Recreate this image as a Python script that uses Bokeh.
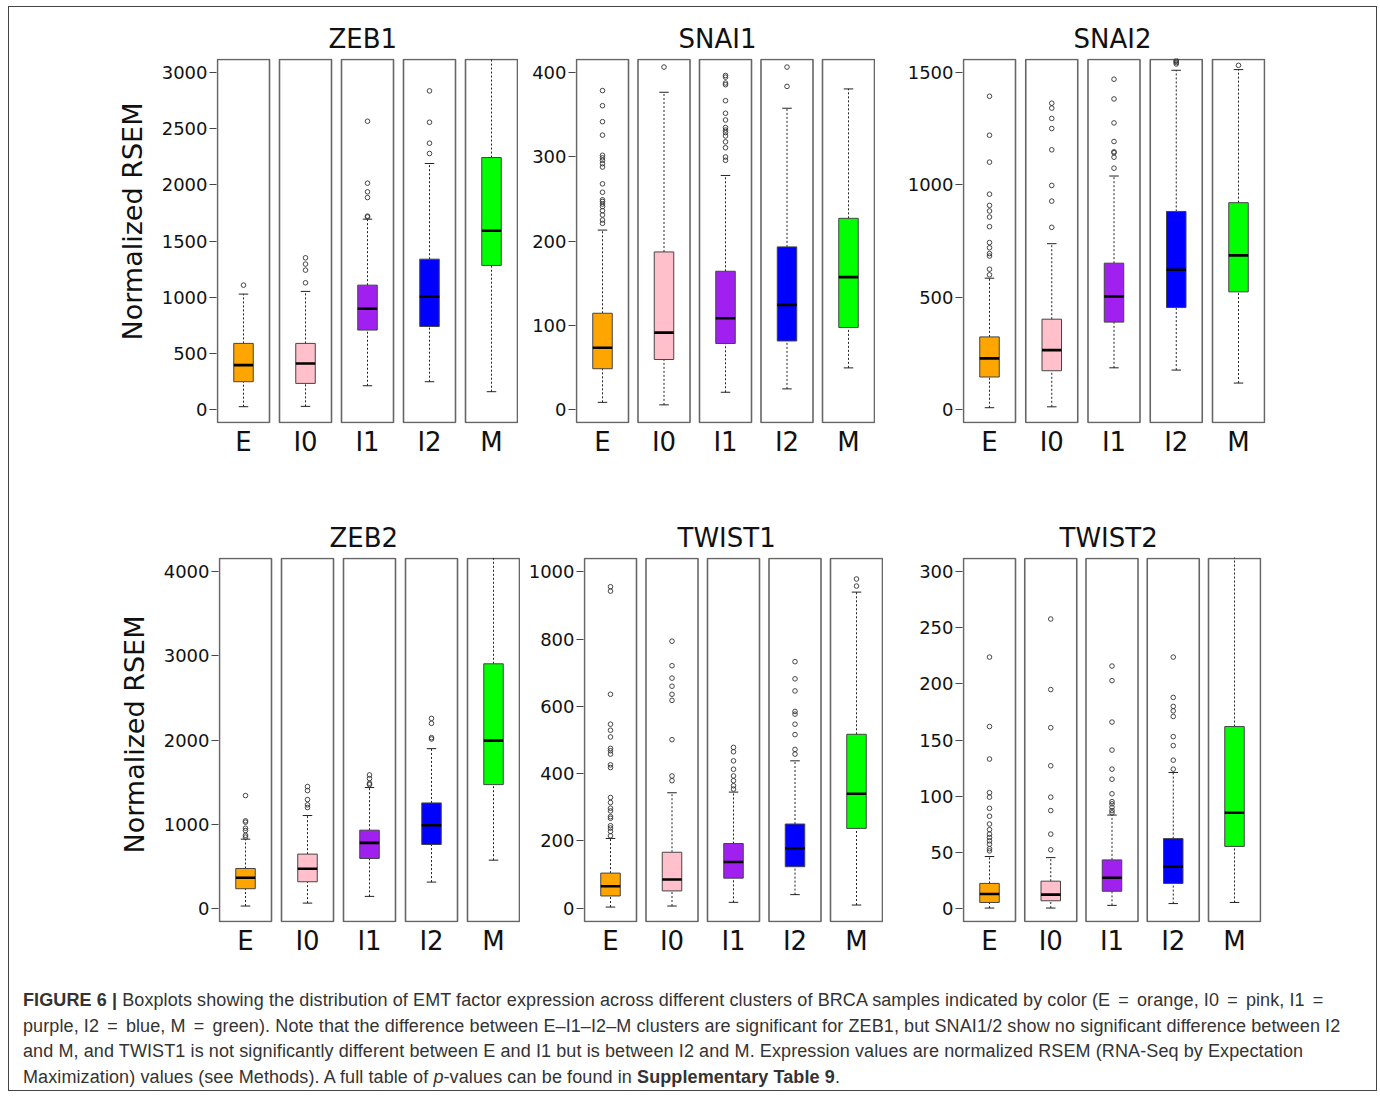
from bokeh.plotting import figure
from bokeh.models import Range1d, FixedTicker, Title, Div, Spacer
from bokeh.layouts import row, column
from bokeh.embed import file_html
from bokeh.resources import INLINE

CLUSTERS = ["E", "I0", "I1", "I2", "M"]
COLORS = ["#FFA500", "#FFC0CB", "#A020F0", "#0000FF", "#00FF00"]

# ---------------- ZEB1 ----------------
zeb1_ticks = [0, 500, 1000, 1500, 2000, 2500, 3000]
zeb1_lo = [21, 24, 208, 244, 155]
zeb1_q1 = [244, 229, 705, 737, 1282]
zeb1_med = [392, 407, 895, 1002, 1591]
zeb1_q3 = [586, 586, 1106, 1338, 2245]
zeb1_hi = [1026, 1050, 1695, 2192, 3400]
zeb1_out = [[1106], [1127, 1240, 1294, 1350],
            [1715, 1722, 1888, 1939, 2016, 2569],
            [2281, 2373, 2560, 2840], []]

# ---------------- SNAI1 ----------------
snai1_ticks = [0, 100, 200, 300, 400]
snai1_lo = [8, 5, 20, 24, 49]
snai1_q1 = [48, 59, 78, 81, 97]
snai1_med = [73, 91, 108, 124, 157]
snai1_q3 = [114, 187, 164, 193, 227]
snai1_hi = [213, 377, 278, 358, 381]
snai1_out = [[221, 225, 231, 236, 241, 244, 247, 249, 258, 268, 288, 292, 296,
              299, 302, 326, 342, 361, 379],
             [407],
             [296, 300, 311, 318, 325, 329, 332, 335, 344, 352, 367, 386, 388,
              395, 397],
             [384, 407], []]

# ---------------- SNAI2 ----------------
snai2_ticks = [0, 500, 1000, 1500]
snai2_lo = [6, 10, 184, 174, 116]
snai2_q1 = [143, 171, 388, 453, 523]
snai2_med = [226, 263, 502, 622, 686]
snai2_q3 = [322, 401, 651, 882, 921]
snai2_hi = [584, 738, 1040, 1512, 1515]
snai2_out = [[599, 624, 683, 694, 720, 743, 814, 857, 884, 909, 959, 1102,
              1222, 1396],
             [811, 928, 998, 1157, 1252, 1297, 1343, 1365],
             [1075, 1124, 1144, 1148, 1194, 1277, 1384, 1472],
             [1540, 1546, 1552, 1556],
             [1534]]

# ---------------- ZEB2 ----------------
zeb2_ticks = [0, 1000, 2000, 3000, 4000]
zeb2_lo = [24, 59, 139, 309, 570]
zeb2_q1 = [230, 313, 590, 756, 1469]
zeb2_med = [360, 467, 776, 986, 1992]
zeb2_q3 = [471, 642, 927, 1251, 2907]
zeb2_hi = [820, 1101, 1434, 1897, 4500]
zeb2_out = [[844, 866, 923, 950, 1022, 1038, 1339],
            [1196, 1228, 1291, 1398, 1446],
            [1469, 1485, 1541, 1584],
            [2012, 2028, 2198, 2257], []]

# ---------------- TWIST1 ----------------
twist1_ticks = [0, 200, 400, 600, 800, 1000]
twist1_lo = [3, 6, 17, 40, 9]
twist1_q1 = [36, 51, 89, 123, 237]
twist1_med = [65, 85, 137, 178, 340]
twist1_q3 = [104, 166, 192, 250, 517]
twist1_hi = [207, 343, 345, 438, 940]
twist1_out = [[215, 228, 238, 245, 267, 272, 289, 297, 314, 329, 418, 426,
               458, 468, 475, 509, 529, 547, 636, 943, 956],
              [379, 393, 501, 618, 636, 660, 684, 721, 794],
              [354, 364, 379, 393, 413, 438, 465, 478],
              [458, 472, 516, 547, 577, 585, 646, 682, 733],
              [958, 979]]

# ---------------- TWIST2 ----------------
twist2_ticks = [0, 50, 100, 150, 200, 250, 300]
twist2_lo = [0, 0, 2.4, 4, 5]
twist2_q1 = [5, 6.5, 15, 22, 55]
twist2_med = [12.5, 12, 27, 37, 85]
twist2_q3 = [22, 24, 43, 62, 162]
twist2_hi = [46, 45, 83, 121, 340]
twist2_out = [[51, 53, 57, 60, 63, 66, 70, 75, 82, 89, 99, 103, 133, 162, 224],
              [52, 66, 87, 99, 127, 161, 195, 258],
              [85, 87, 90, 93, 95, 102, 115, 124, 141, 166, 203, 216],
              [124, 132, 145, 153, 171, 176, 180, 188, 224],
              []]

FONT = "DejaVu Sans"
PANEL_H = 363


def make_gene(gene, ticks, lo, q1, med, q3, hi, out, frame_w, bl, br, bt, bb,
              title_offset, ylabel_offset=None):
    spacing = (frame_w - 54) / 4.0
    lim = ticks[-1]
    ymin, ymax = -0.04 * lim, 1.04 * lim
    upp = (ymax - ymin) / PANEL_H
    hw = 26.0 / spacing
    padx = 1.0 / spacing
    bw = 9.75 / spacing
    cw = 4.75 / spacing
    xs = [i + 1 for i in range(len(CLUSTERS))]

    p = figure(frame_width=frame_w, frame_height=PANEL_H + 2,
               x_range=Range1d(1 - hw - padx, 5 + hw + padx),
               y_range=Range1d(ymin - upp, ymax + upp),
               output_backend="svg", toolbar_location=None,
               min_border_left=bl, min_border_right=br,
               min_border_top=bt, min_border_bottom=bb,
               title=gene)
    p.outline_line_color = None
    p.grid.visible = False
    p.background_fill_color = "white"
    p.border_fill_color = "white"

    p.title.align = "left"
    p.title.offset = title_offset
    p.title.text_font = FONT
    p.title.text_font_size = "26px"
    p.title.text_font_style = "normal"
    p.title.text_color = "#111111"
    p.title.standoff = 10

    # panel frames
    p.quad(left=[x - hw for x in xs], right=[x + hw for x in xs],
           bottom=[ymin] * 5, top=[ymax] * 5,
           fill_color=None, line_color="#666666", line_width=1.6)

    # whiskers
    p.segment(x0=xs, x1=xs, y0=lo, y1=q1, line_color="#222222",
              line_width=1, line_dash="2 2")
    p.segment(x0=xs, x1=xs, y0=q3, y1=hi, line_color="#222222",
              line_width=1, line_dash="2 2")
    # caps
    p.segment(x0=[x - cw for x in xs], x1=[x + cw for x in xs], y0=lo, y1=lo,
              line_color="#222222", line_width=1)
    p.segment(x0=[x - cw for x in xs], x1=[x + cw for x in xs], y0=hi, y1=hi,
              line_color="#222222", line_width=1)
    # boxes
    p.quad(left=[x - bw for x in xs], right=[x + bw for x in xs],
           bottom=q1, top=q3, fill_color=COLORS, line_color="#444444",
           line_width=1)
    # medians
    p.segment(x0=[x - bw for x in xs], x1=[x + bw for x in xs], y0=med,
              y1=med, line_color="black", line_width=2.6)
    # outliers
    ox, oy = [], []
    for x, vals in zip(xs, out):
        ox += [x] * len(vals)
        oy += vals
    p.scatter(x=ox, y=oy, marker="circle", size=4.6, fill_color=None,
              line_color="#333333", line_width=0.9)

    # x axis
    xa = p.xaxis[0]
    xa.ticker = FixedTicker(ticks=xs)
    xa.major_label_overrides = {x: c for x, c in zip(xs, CLUSTERS)}
    xa.major_tick_line_color = None
    xa.minor_tick_line_color = None
    xa.axis_line_color = None
    xa.major_tick_out = 0
    xa.major_tick_in = 0
    xa.major_label_standoff = 3
    xa.major_label_text_font = FONT
    xa.major_label_text_font_size = "26px"
    xa.major_label_text_color = "#111111"

    # y axis
    ya = p.yaxis[0]
    ya.ticker = FixedTicker(ticks=ticks)
    ya.axis_line_color = None
    ya.minor_tick_line_color = None
    ya.major_tick_line_color = "#444444"
    ya.major_tick_out = 7
    ya.major_tick_in = 0
    ya.major_label_standoff = 2
    ya.major_label_text_font = FONT
    ya.major_label_text_font_size = "18px"
    ya.major_label_text_color = "#111111"

    if ylabel_offset is not None:
        t = Title(text="Normalized RSEM", align="left", offset=ylabel_offset,
                  text_font=FONT, text_font_size="27px",
                  text_font_style="normal", text_color="#111111", standoff=22)
        p.add_layout(t, "left")
    return p


f1 = make_gene("ZEB1", zeb1_ticks, zeb1_lo, zeb1_q1, zeb1_med, zeb1_q3,
               zeb1_hi, zeb1_out, 302, 207, 0, 51, 70, 112, ylabel_offset=83)
f2 = make_gene("SNAI1", snai1_ticks, snai1_lo, snai1_q1, snai1_med, snai1_q3,
               snai1_hi, snai1_out, 300, 57, 0, 51, 70, 103)
f3 = make_gene("SNAI2", snai2_ticks, snai2_lo, snai2_q1, snai2_med, snai2_q3,
               snai2_hi, snai2_out, 303, 87, 111, 51, 70, 111)

f4 = make_gene("ZEB2", zeb2_ticks, zeb2_lo, zeb2_q1, zeb2_med, zeb2_q3,
               zeb2_hi, zeb2_out, 302, 209, 0, 64, 51, 111, ylabel_offset=69)
f5 = make_gene("TWIST1", twist1_ticks, twist1_lo, twist1_q1, twist1_med,
               twist1_q3, twist1_hi, twist1_out, 300, 63, 0, 64, 51, 94)
f6 = make_gene("TWIST2", twist2_ticks, twist2_lo, twist2_q1, twist2_med,
               twist2_q3, twist2_hi, twist2_out, 299, 79, 115, 64, 51, 97)

EQ = '<span style="margin:0 3px">=</span>'
CAPTION = (
    '<div style="padding:10px 0 0 9px;font-family:\'Liberation Sans\',Arial,'
    'sans-serif;font-size:18px;letter-spacing:0.1px;line-height:25.5px;'
    'color:#333333;white-space:nowrap;">'
    '<b>FIGURE 6 |</b> Boxplots showing the distribution of EMT factor '
    'expression across different clusters of BRCA samples indicated by color '
    '(E ' + EQ + ' orange, I0 ' + EQ + ' pink, I1 ' + EQ + '<br>'
    'purple, I2 ' + EQ + ' blue, M ' + EQ + ' green). Note that the '
    'difference between E\u2013I1\u2013I2\u2013M clusters are significant for '
    'ZEB1, but SNAI1/2 show no significant difference between I2<br>'
    'and M, and TWIST1 is not significantly different between E and I1 but is '
    'between I2 and M. Expression values are normalized RSEM (RNA-Seq by '
    'Expectation<br>'
    'Maximization) values (see Methods). A full table of <i>p</i>-values can '
    'be found in <b>Supplementary Table 9</b>.'
    '</div>'
)
caption = Div(text=CAPTION, width=1367, height=117)

inner = column(row(f1, f2, f3), row(f4, f5, f6), caption,
               width=1367, height=1083, sizing_mode="fixed",
               styles={"outline": "1px solid #444444",
                       "background-color": "white"})
root = column(Spacer(height=7), row(Spacer(width=9), inner))

open("out.html", "w").write(file_html(root, INLINE, title="Figure 6"))
